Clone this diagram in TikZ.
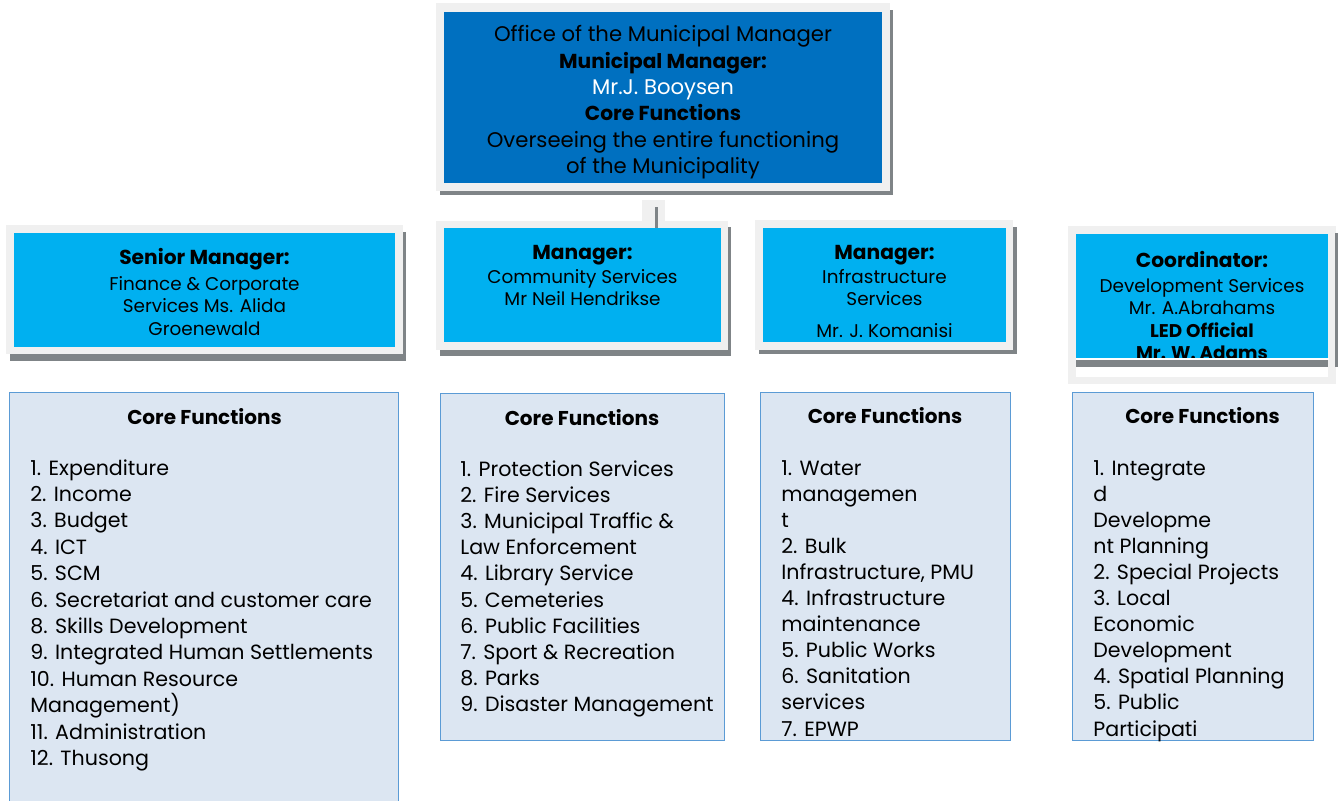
\documentclass[tikz,border=0pt]{standalone}
\usepackage{fontspec}
\setmainfont{Poppins}
\usetikzlibrary{positioning,calc}

\definecolor{topblue}{HTML}{0070C0}
\definecolor{mgrblue}{HTML}{00B0F0}
\definecolor{framegray}{HTML}{F0F0F0}
\definecolor{shadowgray}{HTML}{7F8487}
\definecolor{corefill}{HTML}{DCE6F2}
\definecolor{coreline}{HTML}{5B9BD5}

\newcommand{\mgrtitle}[1]{{\fontsize{10.1}{12}\bfseries\selectfont #1}}
\newcommand{\topbold}[1]{{\fontsize{10.1}{13.2}\bfseries\selectfont #1}}

\tikzset{
  boxshadow/.style={fill=shadowgray},
  boxframe/.style={fill=framegray},
  topbox/.style={fill=topblue, inner sep=0pt, anchor=north west},
  mgrbox/.style={fill=mgrblue, inner sep=0pt, anchor=north west},
  corebox/.style={fill=corefill, draw=coreline, line width=0.6pt, inner sep=0pt, anchor=north west},
  toptext/.style={anchor=north, align=center, inner sep=0pt, font=\fontsize{10.6}{13.2}\selectfont},
  mgrtext/.style={anchor=north, align=center, inner sep=0pt, font=\fontsize{9.2}{11.3}\selectfont},
  coretitle/.style={anchor=base, inner sep=0pt, font=\fontsize{10}{12}\bfseries\selectfont},
  coreitem/.style={anchor=base west, inner sep=0pt, font=\fontsize{10.3}{13}\selectfont},
}

\begin{document}
\begin{tikzpicture}[x=0.5pt,y=-0.5pt]
  \useasboundingbox (0,0) rectangle (1341,800);
  \clip (0,0) rectangle (1341,800);

  % Office of the Municipal Manager
  \fill[boxshadow] (440,10) rectangle (893,195);
  \fill[boxframe] (436,3) rectangle (890,191);
  \node[topbox, minimum width=219pt, minimum height=85.5pt] (mm) at (444,11.5) {};
  \node[toptext] (mmtext) at (663,25) {Office of the Municipal Manager\\
    \topbold{Municipal Manager:}\\
    \textcolor{white}{Mr.J. Booysen}\\
    \topbold{Core Functions}\\
    Overseeing the entire functioning\\
    of the Municipality};

  % Senior Manager: Finance
  \fill[boxshadow] (10,232) rectangle (406,361);
  \fill[boxframe] (6,225) rectangle (403,354);
  \node[mgrbox, minimum width=190.5pt, minimum height=57pt] (fin) at (14,233) {};
  \node[mgrtext] (fintext) at (204.5,248) {\mgrtitle{Senior Manager:}\\[1.5pt]
    Finance \& Corporate\\ Services Ms. Alida\\ Groenewald};

  % Manager: Community Services
  \coordinate (lnk) at (656.5,200);
  \fill[boxframe] (642,200) rectangle (665,222);
  \fill[boxshadow] (440,227) rectangle (731,356);
  \fill[boxframe] (436,221) rectangle (728,350);
  \node[mgrbox, minimum width=138.5pt, minimum height=57pt] (comm) at (444,228) {};
  \node[mgrtext] (commtext) at (582.5,245) {\mgrtitle{Manager:}\\[0.5pt]
    Community Services\\ Mr Neil Hendrikse};
  \draw[shadowgray, line width=1.5pt] ($(lnk)+(0,7)$) -- (lnk |- comm.north);

  % Manager: Infrastructure Services
  \fill[boxshadow] (759,227) rectangle (1017,354);
  \fill[boxframe] (755,220) rectangle (1013,350);
  \node[mgrbox, minimum width=121.5pt, minimum height=57pt] (infra) at (763,228) {};
  \node[mgrtext] (infratext) at (884.5,245) {\mgrtitle{Manager:}\\[0.5pt]
    Infrastructure\\ Services\\[4.5pt] Mr. J. Komanisi};

  % Coordinator: Development Services
  \fill[boxframe] (1068,226) rectangle (1336,384);
  \fill[white] (1076,234) rectangle (1328,377);
  \fill[boxshadow] (1076,358) rectangle (1328,367);
  \fill[boxshadow] (1335,233) rectangle (1338,367);
  \node[mgrbox, minimum width=126pt, minimum height=62pt] (dev) at (1076,234) {};
  \node[mgrtext] (devtext) at (1202,251) {\mgrtitle{Coordinator:}\\[1pt]
    Development Services\\ Mr. A.Abrahams\\ \textbf{LED Official}\\ \textbf{Mr. W. Adams}};
  \draw[white, line width=1pt] (dev.south west) -- (dev.south east);

  % Core functions: Finance
  \node[corebox, minimum width=194.5pt, minimum height=219pt] (cfA) at (9,392) {};
  \node[coretitle] (cfAtitle) at (204.5,424) {Core Functions};
  \foreach \t [count=\i from 0] in {1. Expenditure, 2. Income, 3. Budget, 4. ICT, 5. SCM,
      6. Secretariat and customer care, 8. Skills Development, 9. Integrated Human Settlements,
      10. Human Resource, Management), 11. Administration, 12. Thusong}
    \node[coreitem] (cfA\i) at (30,475+26.4*\i) {\t};

  % Core functions: Community
  \node[corebox, minimum width=142pt, minimum height=173.5pt] (cfB) at (440,393) {};
  \node[coretitle] (cfBtitle) at (582,425) {Core Functions};
  \foreach \t [count=\i from 0] in {1. Protection Services, 2. Fire Services,
      3. Municipal Traffic \&, Law Enforcement, 4. Library Service, 5. Cemeteries,
      6. Public Facilities, 7. Sport \& Recreation, 8. Parks, 9. Disaster Management}
    \node[coreitem] (cfB\i) at (460,476+26.2*\i) {\t};

  % Core functions: Infrastructure
  \node[corebox, minimum width=125pt, minimum height=174pt] (cfC) at (760,392) {};
  \node[coretitle] (cfCtitle) at (885,423) {Core Functions};
  \begin{scope}
    \clip (cfC.north west) rectangle (cfC.south east);
    \foreach \t [count=\i from 0] in {1. Water, managemen, t, 2. Bulk, {Infrastructure, PMU},
        4. Infrastructure, maintenance, 5. Public Works, 6. Sanitation, services, 7. EPWP}
      \node[coreitem] (cfC\i) at (781,475+26.1*\i) {\t};
  \end{scope}

  % Core functions: Development
  \node[corebox, minimum width=120.5pt, minimum height=174pt] (cfD) at (1072,392) {};
  \node[coretitle] (cfDtitle) at (1202.5,423) {Core Functions};
  \begin{scope}
    \clip (cfD.north west) rectangle (cfD.south east);
    \foreach \t [count=\i from 0] in {1. Integrate, d, Developme, nt Planning, 2. Special Projects,
        3. Local, Economic, Development, 4. Spatial Planning, 5. Public, Participati}
      \node[coreitem] (cfD\i) at (1093,475+26.1*\i) {\t};
  \end{scope}
\end{tikzpicture}
\end{document}
